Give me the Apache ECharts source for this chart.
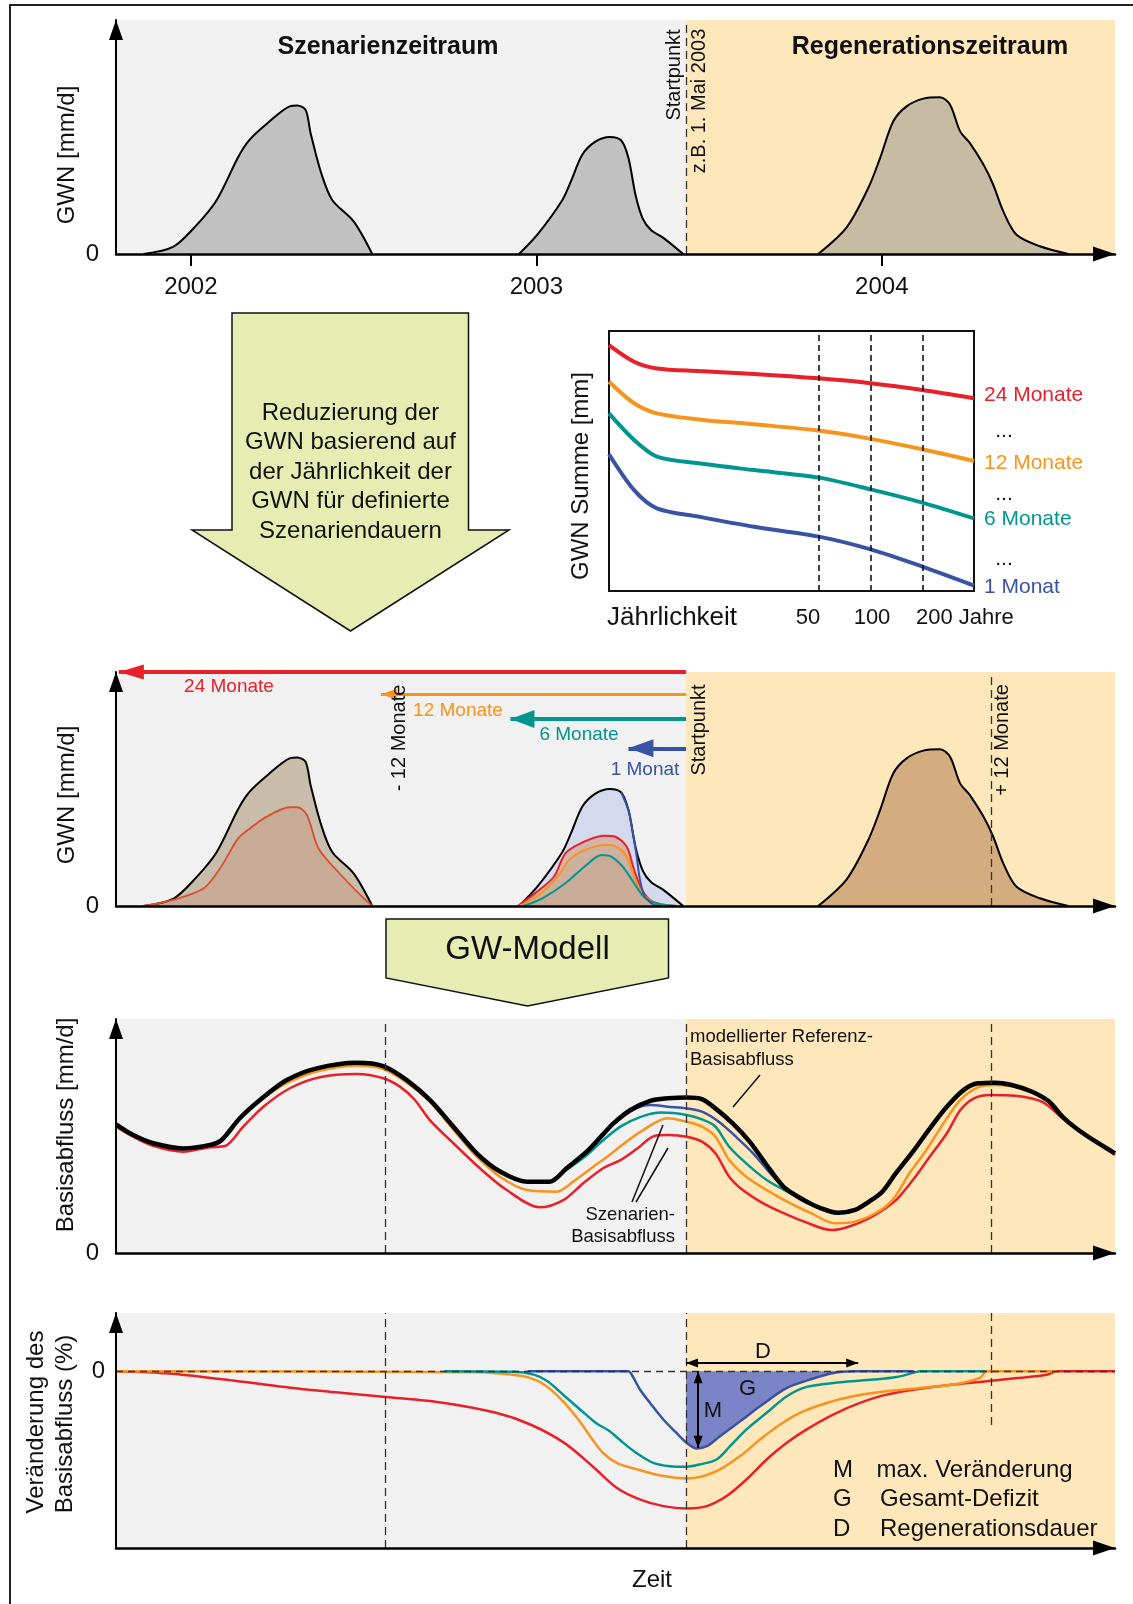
<!DOCTYPE html>
<html><head><meta charset="utf-8">
<script src="https://cdn.jsdelivr.net/npm/echarts@6/dist/echarts.min.js"></script>
<style>html,body{margin:0;padding:0;background:#fff}#c{width:1133px;height:1604px}</style>
</head><body><div id="c"></div>
<script>
// ================= DATA =================
// time axis in months since Jan 2002
const X_MIN = -2.6, X_MAX = 32.1;
const START = 17.2;          // Startpunkt (z.B. 1. Mai 2003)
const MINUS12 = 6.76;        // "- 12 Monate"
const PLUS12 = 27.8;         // "+ 12 Monate"
const yearTicks = [0, 12, 24];
const yearLabels = ['2002', '2003', '2004'];

// GWN reference peaks (panel 1 and panel 3), value 0..100
const gwnPeak1 = [[-1.65,0],[-0.62,3],[0.15,11.7],[0.9,23.1],[1.65,41.6],[2.03,48.7],[2.65,55.8],[3.45,63.2],[3.7,63.5],[3.99,61.5],[4.16,51.6],[4.53,34.5],[4.91,23.1],[5.66,13.8],[6.3,0]];
const gwnPeak2 = [[11.4,0],[12.05,8.5],[12.9,23],[13.2,31],[13.6,42.5],[14.05,48],[14.55,50],[14.95,48.5],[15.2,41],[15.45,25],[15.7,15],[16.0,10],[16.4,7],[17.1,0]];
const gwnPeak3 = [[21.79,0],[22.78,11.4],[23.53,28.2],[23.94,41],[24.4,56.7],[24.86,63.1],[25.44,66.4],[26.02,67],[26.37,63.8],[26.72,52.4],[27.06,47.4],[27.53,38.2],[27.87,29.6],[28.22,18.2],[28.68,8.2],[29.49,3.3],[30.48,0]];
// reduced GWN (scenarios)
const gwn24Peak1 = [[-1.62,0],[-0.62,2.6],[0.45,7.6],[1.05,16.8],[1.64,28.9],[1.98,32.5],[2.64,38.2],[3.44,42.2],[3.7,42.2],[4.03,38.9],[4.43,24.7],[5.16,14],[5.83,5.4],[6.3,0]];
const gwn24Peak2 = [[11.35,0],[11.95,5.4],[12.61,12.5],[13.01,22.5],[13.54,26.8],[14.34,30],[14.74,29.6],[15.14,25.3],[15.4,15.4],[15.67,6.8],[16.06,1.8],[16.86,0]];
const gwn12Peak2 = [[11.41,0],[12.08,4.7],[12.74,12.5],[13.14,19.7],[13.67,23.9],[14.4,26.1],[14.74,25.6],[15.14,21.1],[15.4,12.5],[15.73,4.7],[16.2,1.1],[16.86,0]];
const gwn6Peak2 = [[11.55,0],[12.21,3.3],[13.01,9.7],[13.67,16.8],[14.27,21.8],[14.6,21.1],[15.0,16.8],[15.4,9.7],[15.73,4],[16.2,1.1],[16.86,0]];
const gwn1Peak2 = [[14.95,48.5],[15.2,41],[15.3,35],[15.47,22.5],[15.6,11.1],[15.77,4],[16.06,0.7],[16.33,0]];

// scenario arrows (panel 3): height and tip
const arrowNames = ['24 Monate', '12 Monate', '6 Monate', '1 Monat'];
const arrowLevel = [100, 90.5, 79.9, 67.4];
const arrowTip = [-2.5, 6.6, 11.1, 15.2];

// Inset: GWN Summe vs Jaehrlichkeit
const retPeriods = [3, 4.2, 5.7, 10, 21, 50, 100, 200, 400];
const sum24 = [94.6, 88.2, 85.6, 84.6, 83.5, 81.8, 79.9, 77.3, 74.1];
const sum12 = [80.5, 72.2, 68.3, 66.0, 64.1, 61.7, 58.5, 54.5, 50.0];
const sum6  = [68.3, 58.1, 51.7, 49.1, 46.5, 43.6, 39.1, 34.0, 27.9];
const sum1  = [52.6, 38.8, 31.8, 28.6, 24.7, 20.9, 16.0, 9.4, 2.1];
const retMarks = [50, 100, 200];

// Basisabfluss (panel 4)
const baseRef = [[-2.6,55],[-2.0,50.4],[-1.3,46.9],[-0.26,44.7],[0.67,46.2],[1.07,48.3],[1.7,57.6],[2.4,65.4],[3.33,73.9],[4.37,78.9],[5.76,81.3],[6.68,79.9],[7.5,73.9],[8.3,65.4],[9.12,54],[9.93,42.6],[10.74,34.8],[11.67,30.5],[12.47,30.5],[13.05,36.2],[13.75,43.3],[14.3,50.5],[14.68,55.4],[15.27,61.1],[15.98,65.1],[16.57,66.1],[17.22,66.5],[17.75,65.8],[18.22,61.8],[18.82,55.4],[19.41,47.6],[20.0,37.6],[20.59,28.3],[21.3,22.6],[21.89,19.1],[22.48,17.2],[23.07,18.4],[23.55,21.9],[24.02,26.2],[24.49,34.1],[25.08,43.3],[25.67,53.3],[26.26,62.5],[26.85,69.7],[27.33,72.5],[27.92,72.8],[28.51,71.8],[29.22,68.9],[29.81,64.7],[30.28,58.2],[30.75,53.3],[31.34,48.3],[32.1,42.6]];
const baseS24 = [[-2.6,54],[-2.0,49.7],[-1.31,45.8],[-0.26,43.3],[0.67,45.2],[1.19,45.7],[1.82,54],[2.52,62.5],[3.44,70.4],[4.48,75.1],[5.76,76.5],[6.68,74.7],[7.26,71.1],[7.78,65.4],[8.3,56.8],[9.12,46.9],[10.04,36.2],[10.97,26.9],[12.12,19.5],[12.94,22.6],[13.63,29.8],[14.32,36.2],[14.92,39.7],[15.51,44.7],[16.1,50],[16.57,50.4],[17.22,49.7],[17.75,47.6],[18.22,42.6],[18.7,32.6],[19.17,26.9],[19.88,21.2],[20.59,17],[21.3,13.4],[22.25,9.8],[22.84,11.2],[23.66,15.5],[24.49,22.6],[25.08,31.2],[25.67,41.2],[26.26,51.2],[26.73,61.1],[27.2,66.1],[27.8,67.5],[28.62,67.2],[29.57,64.6],[30.28,57.6],[30.98,51.2],[32.1,41.9]];
const baseS12 = [[-2.6,55],[-2.0,50.4],[-1.3,46.9],[-0.26,44.7],[0.67,46.2],[1.07,48.3],[1.7,57.6],[2.4,65.2],[3.33,72.6],[4.37,77.6],[5.76,80],[6.68,78.6],[7.5,72.8],[8.3,64.7],[9.12,52.6],[9.93,41.2],[10.74,32.6],[11.67,26.9],[12.71,26.2],[13.28,30.5],[13.98,36.9],[14.5,41.5],[14.92,45.6],[15.63,51.9],[16.57,57.6],[17.22,56.1],[17.75,54],[18.22,49.7],[18.7,39.7],[19.29,32.6],[20.0,26.9],[20.83,21.2],[21.54,17],[22.36,12.7],[23.07,13.4],[23.78,17],[24.37,22.6],[24.96,34.1],[25.55,44],[26.14,55.4],[26.73,65.4],[27.33,70.8],[27.92,71.8],[28.98,70.0],[29.81,64.7],[30.28,58.2],[30.75,53.3],[31.34,48.3],[32.1,42.3]];
const baseS6 = [[12.47,30.5],[13.05,35.5],[13.75,41.8],[14.2,46.9],[14.92,54],[15.63,58.2],[16.34,60],[17.22,59],[17.75,57.1],[18.22,54],[18.7,45.4],[19.29,38.3],[20.0,31.2],[20.83,25.5],[21.65,20.5],[22.36,16.8],[22.95,17.6],[23.55,21.9]];
const baseS1 = [[14.68,55.4],[15.27,60.5],[15.63,62.6],[15.98,63.2],[16.57,62.5],[17.22,61.8],[17.75,60.4],[18.34,56.1],[18.93,49.7],[19.53,42.6],[20.12,34.1],[20.71,26.9],[21.3,21.9],[21.89,19.1],[22.48,17.2],[23.07,18.4]];

// Veraenderung des Basisabflusses in % (panel 5)
const chg24 = [[-2.6,0],[-0.76,-1.3],[1.63,-5.6],[4.02,-10.3],[6.77,-14.5],[8.8,-17.9],[10.6,-23.5],[11.79,-30.1],[12.97,-40.5],[13.95,-53.7],[14.79,-65.9],[15.59,-72.5],[16.41,-76.3],[17.22,-77.6],[17.92,-76.3],[18.61,-70.6],[19.3,-61.2],[20.0,-49.9],[20.7,-40.5],[21.39,-32.9],[22.31,-24.5],[23.24,-17.9],[24.17,-13.2],[25.33,-9.9],[26.48,-7.5],[27.64,-5.6],[28.8,-3.7],[29.73,-1.9],[30.08,0],[32.1,0]];
const chg12 = [[-2.6,0],[10.0,-0.5],[11.19,-1.9],[11.78,-3.7],[12.27,-7.5],[12.87,-16],[13.46,-27.3],[13.95,-38.6],[14.31,-46.1],[14.79,-51.8],[15.5,-55.5],[16.41,-59.3],[17.22,-60.6],[17.8,-59.3],[18.38,-55.5],[19.08,-48],[19.77,-38.6],[20.47,-30.1],[21.16,-23.5],[22.08,-17.9],[23.01,-14.1],[24.17,-11.3],[25.33,-9.4],[26.48,-7.5],[27.41,-3.7],[27.64,0],[30.1,0]];
const chg6 = [[8.8,0],[11.19,-0.3],[11.91,-1.9],[12.39,-5.6],[12.99,-14.1],[13.59,-22.6],[14.07,-29.2],[14.55,-33.9],[15.02,-40.5],[15.5,-46.5],[16.06,-51.8],[16.64,-53.7],[17.22,-54],[17.68,-52.7],[18.26,-49.9],[18.73,-42.4],[19.3,-32.9],[20.0,-23.5],[20.7,-14.1],[21.39,-8.8],[22.55,-6.2],[23.7,-4.7],[24.52,-3.2],[25.09,-0.9],[25.33,0],[27.6,0]];
const chg1 = [[11.7,0],[15.2,0],[15.3,-1.5],[15.6,-10.3],[15.95,-17.9],[16.41,-27.3],[16.87,-34.9],[17.22,-40.5],[17.57,-43.7],[17.92,-42.4],[18.38,-36.7],[19.08,-28.3],[19.77,-19.8],[20.7,-9.4],[21.5,-4.7],[22.31,-0.9],[23.01,0],[25.1,0]];
const chgDeficit = [[17.2,-40.2],[17.57,-43.7],[17.92,-42.4],[18.38,-36.7],[19.08,-28.3],[19.77,-19.8],[20.7,-9.4],[21.5,-4.7],[22.31,-0.9],[23.01,0]];
const maxChangeX = 17.62, maxChangeY = -43.3;     // M
const regenEndX = 23.18, regenArrowY = 4.7;       // D

// ================= STYLE =================
const FONT = '"Liberation Sans", Arial, Helvetica, sans-serif';
const RED = '#e8202a', ORANGE = '#f7941d', TEAL = '#00968f', BLUE = '#3853a4';
const GRAY = '#f0f1f0', BEIGE = '#fde7bb', GREEN = '#e6edb3';

const chart = echarts.init(document.getElementById('c'), null, {renderer: 'canvas'});

const grids = [
  {left: 116, top: 20, width: 999, height: 234},
  {left: 609, top: 331, width: 365, height: 260, show: true, borderColor: '#111', borderWidth: 2, backgroundColor: '#fff'},
  {left: 116, top: 672, width: 999, height: 234},
  {left: 116, top: 1019, width: 999, height: 234},
  {left: 116, top: 1313, width: 999, height: 235}
];

function timeAxis(i, withYears) {
  return {
    type: 'value', gridIndex: i, min: X_MIN, max: X_MAX, z: 6,
    splitLine: {show: false},
    axisLine: {show: true, onZero: false, symbol: ['none', 'triangle'], symbolSize: [15, 22], symbolOffset: [0, -11], lineStyle: {color: '#000', width: 2.5}},
    axisTick: withYears ? {show: true, customValues: yearTicks, length: 12, lineStyle: {color: '#000', width: 2}} : {show: false},
    axisLabel: withYears ? {show: true, customValues: yearTicks, margin: 21, fontSize: 24, fontFamily: FONT, color: '#111',
      formatter: v => yearLabels[yearTicks.indexOf(v)] || ''} : {show: false}
  };
}
function valAxis(i, min, max, margin) {
  return {
    type: 'value', gridIndex: i, min, max, z: 6,
    splitLine: {show: false},
    axisLine: {show: true, onZero: false, symbol: ['none', 'triangle'], symbolSize: [14, 20], symbolOffset: [0, -10], lineStyle: {color: '#000', width: 2}},
    axisTick: {show: false},
    axisLabel: {show: true, customValues: [0], margin: margin, fontSize: 24, fontFamily: FONT, color: '#111'}
  };
}

const xAxes = [
  timeAxis(0, true),
  {type: 'log', logBase: 10, gridIndex: 1, min: 3, max: 400, show: false},
  timeAxis(2, false), timeAxis(3, false), timeAxis(4, false)
];
const yAxes = [
  valAxis(0, 0, 100, 17),
  {type: 'value', gridIndex: 1, min: 0, max: 100, show: false},
  valAxis(2, 0, 100, 17), valAxis(3, 0, 100, 17), valAxis(4, -100, 33, 11)
];

const series = [];
function bgSeries(i) {
  series.push({type: 'line', xAxisIndex: i, yAxisIndex: i, data: [], z: 1, silent: true,
    markArea: {silent: true, animation: false, label: {show: false},
      data: [[{xAxis: X_MIN, itemStyle: {color: GRAY, opacity: 1}}, {xAxis: START}],
             [{xAxis: START, itemStyle: {color: BEIGE, opacity: 1}}, {xAxis: X_MAX}]]}});
}
function curve(i, data, color, width, fill, z) {
  const s = {type: 'line', xAxisIndex: i, yAxisIndex: i, data, smooth: 0.3, symbol: 'none', showSymbol: false,
    silent: true, z: z || 3, lineStyle: {color, width}};
  if (fill) s.areaStyle = {color: fill, opacity: 1};
  series.push(s);
}
function dashSeries(i, data) {
  series.push({type: 'line', xAxisIndex: i, yAxisIndex: i, data: [], z: 4, silent: true, clip: false,
    markLine: {silent: true, animation: false, symbol: 'none', label: {show: false},
      lineStyle: {type: [8, 5], color: '#333', width: 1.3}, data}});
}
function arrowSeries(i, from, to, color, width, size, both) {
  const off = [0, size[1] / 2];
  series.push({type: 'line', xAxisIndex: i, yAxisIndex: i, data: [], z: 5, silent: true, clip: false,
    markLine: {silent: true, animation: false, symbol: [both ? 'triangle' : 'none', 'triangle'], label: {show: false},
      lineStyle: {type: 'solid', color, width},
      data: [[{coord: from, symbolSize: size, symbolOffset: off}, {coord: to, symbolSize: size, symbolOffset: off}]]}});
}

// ---- panel 1 ----
bgSeries(0);
curve(0, gwnPeak1, '#000', 2, '#c1c1c1');
curve(0, gwnPeak2, '#000', 2, '#c1c1c1');
curve(0, gwnPeak3, '#000', 2, '#c8bba4');
dashSeries(0, [{xAxis: START}]);

// ---- inset ----
const insetSets = [[sum24, RED], [sum12, ORANGE], [sum6, TEAL], [sum1, BLUE]];
insetSets.forEach(([arr, col]) => curve(1, retPeriods.map((t, k) => [t, arr[k]]), col, 4, null));
series.push({type: 'line', xAxisIndex: 1, yAxisIndex: 1, data: [], z: 4, silent: true,
  markLine: {silent: true, animation: false, symbol: 'none', label: {show: false},
    lineStyle: {type: [6, 4], color: '#111', width: 1.6}, data: retMarks.map(v => ({xAxis: v}))}});

// ---- panel 3 ----
bgSeries(2);
curve(2, gwnPeak1, '#000', 2, '#c8bcaa');
curve(2, gwn24Peak1, '#d9502e', 1.8, '#c8ab97');
curve(2, gwnPeak2, '#000', 2, '#d4d9ee');
curve(2, gwn24Peak2, RED, 2, '#d4b4ac');
curve(2, gwn12Peak2, ORANGE, 2, '#cdb09e');
curve(2, gwn6Peak2, TEAL, 2, '#c8ac98');
curve(2, gwn1Peak2, BLUE, 2, null);
curve(2, gwnPeak3, '#000', 2, '#d3ac7f');
dashSeries(2, [[{coord: [MINUS12, 0]}, {coord: [MINUS12, 109.4]}],
               [{coord: [START, 0]}, {coord: [START, 111.5]}],
               {xAxis: PLUS12}]);
const arrowCols = [RED, ORANGE, TEAL, BLUE];
const arrowW = [4, 3, 4, 4];
const arrowSz = [[15, 25], [11, 16], [18, 24], [18, 25]];
arrowNames.forEach((n, k) => arrowSeries(2, [START, arrowLevel[k]], [arrowTip[k], arrowLevel[k]], arrowCols[k], arrowW[k], arrowSz[k], false));

// ---- panel 4 ----
bgSeries(3);
dashSeries(3, [{xAxis: MINUS12}, {xAxis: START}, {xAxis: PLUS12}]);
curve(3, baseS24, RED, 2.5);
curve(3, baseS12, ORANGE, 2.5);
curve(3, baseS6, TEAL, 2.5);
curve(3, baseS1, BLUE, 2.5);
curve(3, baseRef, '#000', 4.5);

// ---- panel 5 ----
bgSeries(4);
dashSeries(4, [{xAxis: MINUS12}, {xAxis: START}, [{coord: [PLUS12, 33]}, {coord: [PLUS12, -33]}]]);
curve(4, chgDeficit, 'rgba(0,0,0,0)', 0, '#7b84c6', 2);
curve(4, chg24, RED, 2.5);
curve(4, chg12, ORANGE, 2.5);
curve(4, chg6, TEAL, 2.5);
curve(4, chg1, BLUE, 2.5);
series.push({type: 'line', xAxisIndex: 4, yAxisIndex: 4, data: [], z: 5, silent: true,
  markLine: {silent: true, animation: false, symbol: 'none', label: {show: false},
    lineStyle: {type: [7, 5], color: '#333', width: 1.3}, data: [{yAxis: 0}]}});
arrowSeries(4, [START, regenArrowY], [regenEndX, regenArrowY], '#000', 2, [9, 12], true);
arrowSeries(4, [maxChangeX, 0], [maxChangeX, maxChangeY], '#000', 2, [9, 12], true);

// ================= TEXT / SHAPES =================
function T(x, y, text, size, o) {
  o = o || {};
  return {type: 'text', x, y, rotation: o.rot || 0, z: 60, silent: true,
    style: {text, fontSize: size, fontFamily: FONT, fontWeight: o.bold ? 'bold' : 'normal',
      fill: o.color || '#111', align: o.align || 'center', verticalAlign: 'middle'}};
}
function L(x1, y1, x2, y2, w) {
  return {type: 'line', z: 60, silent: true, shape: {x1, y1, x2, y2}, style: {stroke: '#111', lineWidth: w || 1.5}};
}
const R = Math.PI / 2;
const graphics = [
  {type: 'polyline', z: 60, silent: true, shape: {points: [[10, 1604], [10, 5], [1133, 5]]}, style: {stroke: '#222', lineWidth: 2, fill: null}},
  {type: 'polygon', z: 50, silent: true, shape: {points: [[232, 313], [468.5, 313], [468.5, 530], [509, 530], [350.5, 631], [192, 530], [232, 530]]}, style: {fill: GREEN, stroke: '#111', lineWidth: 1.5}},
  {type: 'polygon', z: 50, silent: true, shape: {points: [[386, 919], [668.5, 919], [668.5, 978], [527.5, 1006], [386, 978]]}, style: {fill: GREEN, stroke: '#111', lineWidth: 1.5}},
  // panel 1
  T(388, 47, 'Szenarienzeitraum', 25, {bold: true}),
  T(930, 47, 'Regenerationszeitraum', 25, {bold: true}),
  T(674, 75, 'Startpunkt', 20, {rot: R}),
  T(699, 101, 'z.B. 1. Mai 2003', 20, {rot: R}),
  T(67, 155, 'GWN [mm/d]', 24, {rot: R}),
  // big arrow text
  T(350.5, 413, 'Reduzierung der', 24),
  T(350.5, 442, 'GWN basierend auf', 24),
  T(350.5, 472, 'der Jährlichkeit der', 24),
  T(350.5, 501, 'GWN für definierte', 24),
  T(350.5, 531, 'Szenariendauern', 24),
  // inset
  T(581, 476, 'GWN Summe [mm]', 24, {rot: R}),
  T(984, 395, '24 Monate', 21, {align: 'left', color: RED}),
  T(1004, 431, '...', 21),
  T(984, 463, '12 Monate', 21, {align: 'left', color: ORANGE}),
  T(1004, 494, '...', 21),
  T(984, 519, '6 Monate', 21, {align: 'left', color: TEAL}),
  T(1004, 559, '...', 21),
  T(984, 587, '1 Monat', 21, {align: 'left', color: BLUE}),
  T(607, 618, 'Jährlichkeit', 26, {align: 'left'}),
  T(808, 618, '50', 22),
  T(872, 618, '100', 22),
  T(916, 618, '200 Jahre', 22, {align: 'left'}),
  // panel 3
  T(67, 795, 'GWN [mm/d]', 24, {rot: R}),
  T(229, 687, '24 Monate', 19, {color: RED}),
  T(458, 711, '12 Monate', 19, {color: ORANGE}),
  T(579, 735, '6 Monate', 19, {color: TEAL}),
  T(645, 770, '1 Monat', 19, {color: BLUE}),
  T(399, 738, '- 12 Monate', 20, {rot: R}),
  T(699, 730, 'Startpunkt', 20, {rot: R}),
  T(1002, 740, '+ 12 Monate', 20, {rot: R}),
  // GW-Modell
  T(527.5, 950, 'GW-Modell', 33),
  // panel 4
  T(66, 1125, 'Basisabfluss [mm/d]', 24, {rot: R}),
  T(690, 1037, 'modellierter Referenz-', 18.5, {align: 'left'}),
  T(690, 1060, 'Basisabfluss', 18.5, {align: 'left'}),
  T(675, 1215, 'Szenarien-', 18.5, {align: 'right'}),
  T(675, 1237, 'Basisabfluss', 18.5, {align: 'right'}),
  L(760, 1075, 733, 1107),
  L(632, 1202, 663, 1125),
  L(636, 1202, 668, 1148),
  // panel 5
  T(36, 1422, 'Veränderung des', 24, {rot: R}),
  T(65, 1424, 'Basisabfluss (%)', 24, {rot: R}),
  T(713, 1411, 'M', 22),
  T(747.5, 1389, 'G', 22),
  T(763, 1352, 'D', 22),
  T(833, 1470, 'M', 24, {align: 'left'}),
  T(876.5, 1470, 'max. Veränderung', 24, {align: 'left'}),
  T(833, 1499, 'G', 24, {align: 'left'}),
  T(880, 1499, 'Gesamt-Defizit', 24, {align: 'left'}),
  T(833, 1529, 'D', 24, {align: 'left'}),
  T(880, 1529, 'Regenerationsdauer', 24, {align: 'left'}),
  T(652, 1580, 'Zeit', 24)
];

chart.setOption({
  animation: false,
  backgroundColor: '#fff',
  textStyle: {fontFamily: FONT},
  grid: grids,
  xAxis: xAxes,
  yAxis: yAxes,
  series,
  graphic: {elements: graphics}
});
</script>
</body></html>
